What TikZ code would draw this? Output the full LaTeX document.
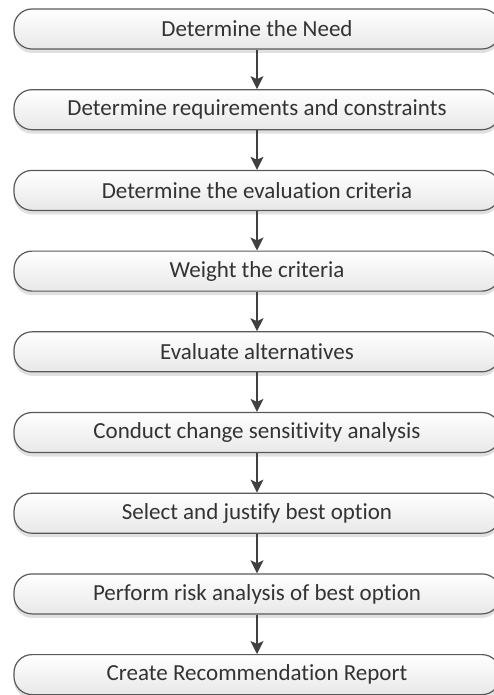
\documentclass[tikz,border=0pt]{standalone}
\usepackage{fontspec}
\setmainfont{Carlito}[Ligatures=NoCommon]
\usetikzlibrary{arrows.meta,shadows}

\begin{document}
\begin{tikzpicture}[
	stage/.style={draw=black!65, line width=1.2pt, rounded corners=18pt,
		top color=white, bottom color=black!9,
		minimum width=486pt, minimum height=40pt, text=black!80,
		font=\fontsize{23}{27}\selectfont,
		drop shadow={shadow xshift=0pt, shadow yshift=-4pt, opacity=0.12, fill=black}},
	flow/.style={draw=black!75, line width=1.2pt, -{Stealth[length=13pt,width=13pt,inset=3pt]}}
]

\def\pitch{80.7}

\begin{scope}[x=1pt,y=1pt]
\clip (0,0) rectangle (494,-695);

\foreach \i\t in{
	1/Determine the Need
	,2/Determine requirements and constraints
	,3/Determine the evaluation criteria
	,4/Weight the criteria
	,5/Evaluate alternatives
	,6/Conduct change sensitivity analysis
	,7/Select and justify best option
	,8/Perform risk analysis of best option
	,9/Create Recommendation Report
}{
	\node[stage] (box\i) at(257,{-29-\pitch*(\i-1)}) {\t};
}

\foreach \i [evaluate=\i as \j using int(\i+1)] in {1,...,8}{
	\draw[flow] (box\i) -- (box\j);
}
\end{scope}

\end{tikzpicture}
\end{document}
